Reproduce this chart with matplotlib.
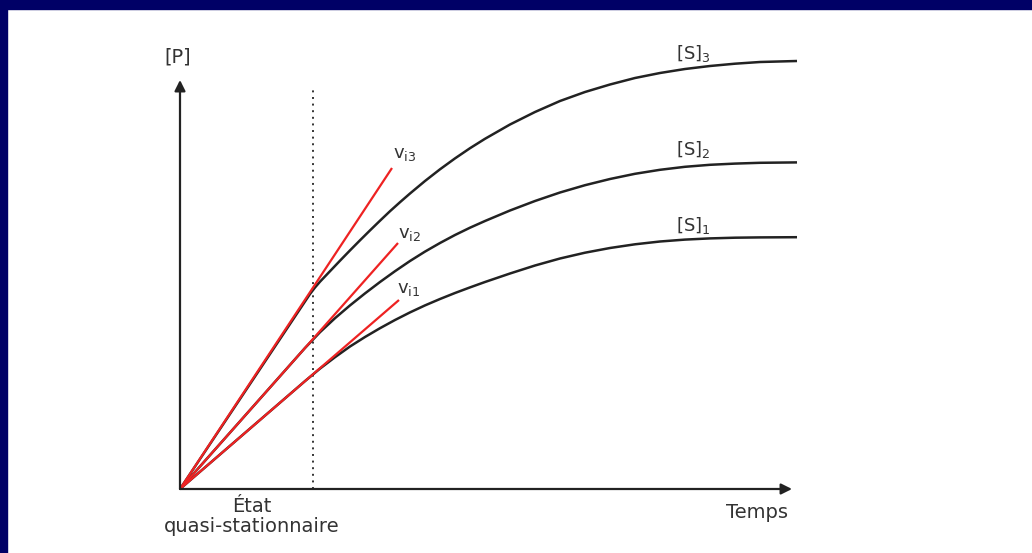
import matplotlib
matplotlib.use("Agg")
import matplotlib.pyplot as plt
from matplotlib.patches import Rectangle

# ---- data (time, product) ----
t_s3 = [0, 125, 130, 135, 140, 150, 160, 170, 180, 190, 200, 210, 220, 230, 245, 260, 275, 290, 305,
        330, 355, 380, 405, 430, 455, 480, 505, 530, 555, 580, 617]
p_s3 = [0, 187.5, 195.0, 201.5, 207.3, 217.8, 228.3, 238.6, 248.7, 258.6, 268.3, 277.8, 286.8, 295.5,
        308.0, 319.7, 330.6, 340.8, 350.2,
        364.5, 377.0, 388.0, 397.0, 404.5, 411.0, 416.0, 420.0, 423.0, 425.3, 427.0, 428.0]

t_s2 = [0, 125, 140, 155, 170, 185, 200, 215, 230, 245, 260, 275, 290, 305,
        330, 355, 380, 405, 430, 455, 480, 505, 530, 555, 580, 617]
p_s2 = [0, 141.0, 156.8, 170.8, 183.6, 195.6, 207.0, 217.8, 228.0, 237.4, 246.0, 254.0, 261.3, 268.0,
        278.5, 288.0, 296.5, 303.8, 310.0, 315.2, 319.2, 322.2, 324.2, 325.4, 326.2, 326.6]

t_s1 = [0, 125, 140, 155, 170, 185, 200, 215, 230, 245, 260, 275, 290, 305,
        330, 355, 380, 405, 430, 455, 480, 505, 530, 555, 580, 617]
p_s1 = [0, 107.9, 120.4, 131.8, 142.5, 152.0, 160.8, 169.0, 176.6, 183.6, 190.0, 196.0, 201.6, 207.0,
        215.5, 223.5, 230.5, 236.3, 241.0, 244.7, 247.5, 249.4, 250.6, 251.3, 251.6, 251.8]

# initial-rate tangents (end points)
tan_t = [212, 218, 219]
tan_p = [321, 246, 189]
tan_labels = ["v$_{\\mathregular{i3}}$", "v$_{\\mathregular{i2}}$", "v$_{\\mathregular{i1}}$"]

curve_labels = ["[S]$_{\\mathregular{3}}$", "[S]$_{\\mathregular{2}}$", "[S]$_{\\mathregular{1}}$"]
steady_t = 133
steady_top = 401

W, H = 1032, 553
fig = plt.figure(figsize=(W / 100, H / 100), dpi=100)
fig.patch.set_facecolor("white")

# navy frame (top and left)
fig.patches.append(Rectangle((0, 1 - 9 / H), 1, 9 / H, transform=fig.transFigure,
                             color="#000066", zorder=0))
fig.patches.append(Rectangle((0, 0), 7 / W, 1, transform=fig.transFigure,
                             color="#000066", zorder=0))

ax = fig.add_axes([180 / W, 64 / H, 620 / W, 409 / H])
ax.set_xlim(0, 620)
ax.set_ylim(0, 409)
ax.axis("off")

black = "#222222"
red = "#ee2222"
txt = "#333333"

# axes arrows
ax.annotate("", xy=(0, 409), xytext=(0, 0),
            arrowprops=dict(arrowstyle="-|>", color=black, lw=1.6, mutation_scale=16,
                            shrinkA=0, shrinkB=0), annotation_clip=False)
ax.annotate("", xy=(612, 0), xytext=(0, 0),
            arrowprops=dict(arrowstyle="-|>", color=black, lw=1.6, mutation_scale=16,
                            shrinkA=0, shrinkB=0), annotation_clip=False)

# steady-state dotted line
ax.plot([steady_t, steady_t], [0, steady_top], color="#333333", lw=1.4,
        linestyle=(0, (1.0, 2.4)), clip_on=False)

# curves
for t, p in [(t_s3, p_s3), (t_s2, p_s2), (t_s1, p_s1)]:
    ax.plot(t, p, color=black, lw=1.8, clip_on=False, solid_capstyle="butt",
            solid_joinstyle="round")

# tangents
for tt, pp in zip(tan_t, tan_p):
    ax.plot([0, tt], [0, pp], color=red, lw=1.6, clip_on=False, solid_capstyle="butt")

fs = 14
fam = "DejaVu Sans"
# tangent labels
tan_lab_pos = [(213, 335), (218, 255), (217, 200)]
for (x, y), s in zip(tan_lab_pos, tan_labels):
    ax.text(x, y, s, fontsize=fs - 1, color=txt, family=fam, ha="left", va="center")

# curve labels
curve_lab_pos = [(496, 436), (496, 339), (496, 264)]
for (x, y), s in zip(curve_lab_pos, curve_labels):
    ax.text(x, y, s, fontsize=fs - 1, color=txt, family=fam, ha="left", va="center")

ax.text(-2, 432, "[P]", fontsize=fs, color=txt, family=fam, ha="center", va="center")
ax.text(608, -24, "Temps", fontsize=fs, color=txt, family=fam, ha="right", va="center")
ax.text(72, -18, "État", fontsize=fs, color=txt, family=fam, ha="center", va="center")
ax.text(72, -38, "quasi-stationnaire", fontsize=fs, color=txt, family=fam,
        ha="center", va="center")

fig.savefig("out.png", dpi=100, facecolor="white")
